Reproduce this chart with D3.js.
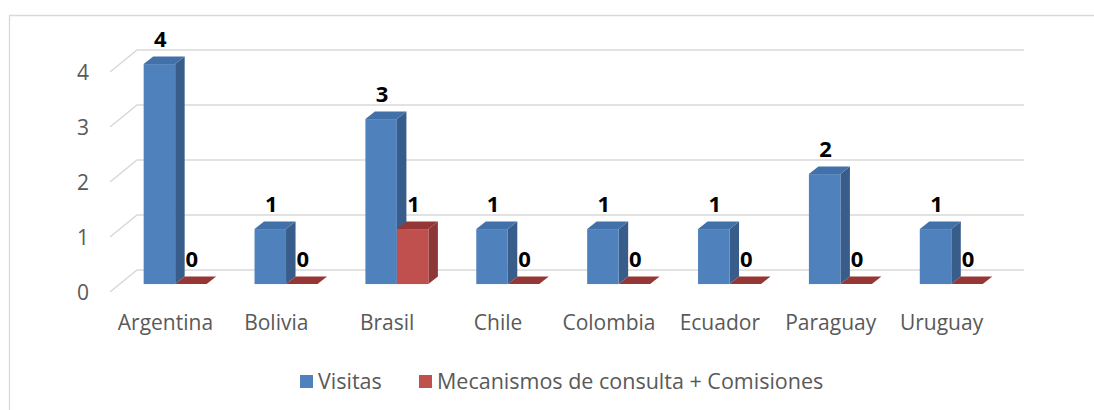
<!DOCTYPE html>
<html><head><meta charset="utf-8">
<script src="https://cdn.jsdelivr.net/npm/d3@7"></script>
<style>body{margin:0;background:#fff}svg{display:block}</style>
</head><body>
<script>
const categories = ["Argentina","Bolivia","Brasil","Chile","Colombia","Ecuador","Paraguay","Uruguay"];
const seriesNames = ["Visitas","Mecanismos de consulta + Comisiones"];
const visitas = [4,1,3,1,1,1,2,1];
const mecanismos = [0,0,1,0,0,0,0,0];
const yTicks = [0,1,2,3,4];

const W=1094,H=410;
const svg=d3.select("body").append("svg").attr("width",W).attr("height",H);
const font="'Open Sans', sans-serif";
const grid="#D9D9D9";

// frame
svg.append("path").attr("d","M9.5,410 L9.5,15.5 L1094,15.5").attr("fill","none").attr("stroke",grid).attr("stroke-width",1.3);

// projection: front plane and back wall offsets
const depthX=27, depthY=-22;
const y = d3.scaleLinear().domain([0,4]).range([292,72]);
const x0 = d3.scaleBand().domain(categories).range([110,997]).padding(0);
const x1 = d3.scaleBand().domain(seriesNames).range([0,x0.bandwidth()]).paddingInner(0).paddingOuter(0.76);

// gridlines (back wall + left diagonal)
const g=svg.append("g");
yTicks.forEach(t=>{
  const yf=y(t), yb=y(t)+depthY;
  g.append("path").attr("d",`M${110},${yf} L${110+depthX},${yb} L${997+depthX},${yb}`)
   .attr("fill","none").attr("stroke",grid).attr("stroke-width",1.6);
});
// y tick labels
svg.append("g").selectAll("text").data(yTicks).join("text")
  .attr("x",89).attr("y",d=>y(d)).attr("dy","0.36em").attr("text-anchor","end")
  .attr("font-family",font).attr("font-size",21).attr("fill","#595959").text(d=>d);

// bars
const bz=0.36, bdx=9.5, bdy=-7.5;
const offX=depthX*bz, offY=depthY*bz;
const colors=[
  {front:"#4F81BD",side:"#385D8A",top:"#4270A8"},
  {front:"#C0504D",side:"#8C3836",top:"#953735"}
];
const data=[visitas,mecanismos];
const bars=svg.append("g");
const labels=[];
categories.forEach((c,i)=>{
  data.forEach((arr,s)=>{
    const v=arr[i];
    const xl=x0(c)+x1(seriesNames[s])+offX, xr=xl+x1.bandwidth();
    const yb=y(0)+offY, yt=y(v)+offY;
    const col=colors[s];
    bars.append("path").attr("d",`M${xr},${yb} L${xr+bdx},${yb+bdy} L${xr+bdx},${yt+bdy} L${xr},${yt} Z`).attr("fill",col.side);
    bars.append("path").attr("d",`M${xl},${yt} L${xl+bdx},${yt+bdy} L${xr+bdx},${yt+bdy} L${xr},${yt} Z`).attr("fill",col.top);
    if(v>0) bars.append("rect").attr("x",xl).attr("y",yt).attr("width",xr-xl).attr("height",yb-yt).attr("fill",col.front);
    labels.push({x:(xl+xr)/2+1,y:yt-17,v});
  });
});
svg.append("g").selectAll("text").data(labels).join("text")
  .attr("x",d=>d.x).attr("y",d=>d.y).attr("text-anchor","middle")
  .attr("font-family",font).attr("font-weight","bold").attr("font-size",22).attr("fill","#000").text(d=>d.v);

// category labels
svg.append("g").selectAll("text").data(categories).join("text")
  .attr("x",c=>x0(c)+x0.bandwidth()/2).attr("y",330).attr("text-anchor","middle")
  .attr("font-family",font).attr("font-size",21).attr("fill","#595959").text(c=>c);

// legend
const leg=[{x:300,name:seriesNames[0],c:colors[0].front},{x:419,name:seriesNames[1],c:colors[1].front}];
leg.forEach(l=>{
  svg.append("rect").attr("x",l.x).attr("y",375).attr("width",13).attr("height",13).attr("fill",l.c);
  svg.append("text").attr("x",l.x+18).attr("y",389).attr("font-family",font).attr("font-size",21.5).attr("fill","#595959").text(l.name);
});
</script>
</body></html>
